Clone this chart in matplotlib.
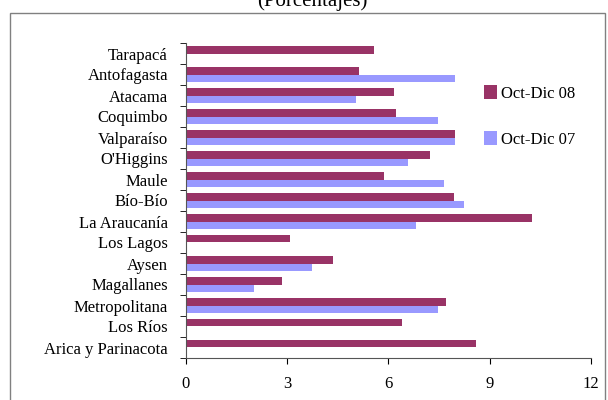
import matplotlib.pyplot as plt
import matplotlib.patches as mpatches
import numpy as np

plt.rcParams['font.family'] = ['Liberation Serif', 'DejaVu Serif']

# regiones, de arriba hacia abajo
regiones = ['Tarapacá', 'Antofagasta', 'Atacama', 'Coquimbo', 'Valparaíso',
            "O'Higgins", 'Maule', 'Bío-Bío', 'La Araucanía', 'Los Lagos',
            'Aysen', 'Magallanes', 'Metropolitana', 'Los Ríos', 'Arica y Parinacota']
oct_dic_08 = [5.57, 5.14, 6.15, 6.21, 7.98, 7.22, 5.86, 7.93, 10.24, 3.08,
              4.37, 2.84, 7.69, 6.39, 8.59]
oct_dic_07 = [np.nan, 7.98, 5.03, 7.46, 7.98, 6.57, 7.63, 8.23, 6.81, np.nan,
              3.73, 2.01, 7.46, np.nan, np.nan]

fig = plt.figure(figsize=(6.08, 4.0), dpi=100)
W, H = 608, 400
ax = fig.add_axes([186 / W, 1 - 358 / H, (591 - 186) / W, (358 - 43) / H])

# marco exterior del grafico
marco = mpatches.Rectangle((10 / W, -0.05), (605 - 10) / W, 1.05 - 13 / H,
                           transform=fig.transFigure, fill=False,
                           edgecolor='#808080', linewidth=1, clip_on=False)
fig.patches.append(marco)

y = np.arange(len(regiones))
h = 0.37
ax.barh(y - h / 2, oct_dic_08, height=h, color='#993366', label='Oct-Dic 08')
ax.barh(y + h / 2, oct_dic_07, height=h, color='#9999FF', label='Oct-Dic 07')

ax.set_ylim(len(regiones) - 0.5, -0.5)
ax.set_xlim(0, 12)
ax.set_xticks([0, 3, 6, 9, 12])
ax.set_yticks(y)
ax.set_yticklabels(regiones)
ax.set_yticks(np.arange(-0.5, len(regiones), 1), minor=True)
ax.tick_params(axis='y', which='major', length=0, pad=13, labelsize=12)
ax.tick_params(axis='y', which='minor', length=4, direction='out')
ax.tick_params(axis='x', length=4, direction='out', pad=9, labelsize=12)

ax.spines['top'].set_visible(False)
ax.spines['right'].set_visible(False)
ax.spines['left'].set_color('#555555')
ax.spines['bottom'].set_color('#555555')

ax.legend(loc='upper left', bbox_to_anchor=(476 / W, 1 - 77 / H),
          bbox_transform=fig.transFigure, frameon=False, fontsize=12,
          handlelength=0.75, handleheight=0.9, handletextpad=0.25,
          labelspacing=1.75, borderpad=0)

fig.text(0.513, 1 - 1 / H, '(Porcentajes)', ha='center', va='center', fontsize=15)

plt.savefig('out.png', dpi=100)
